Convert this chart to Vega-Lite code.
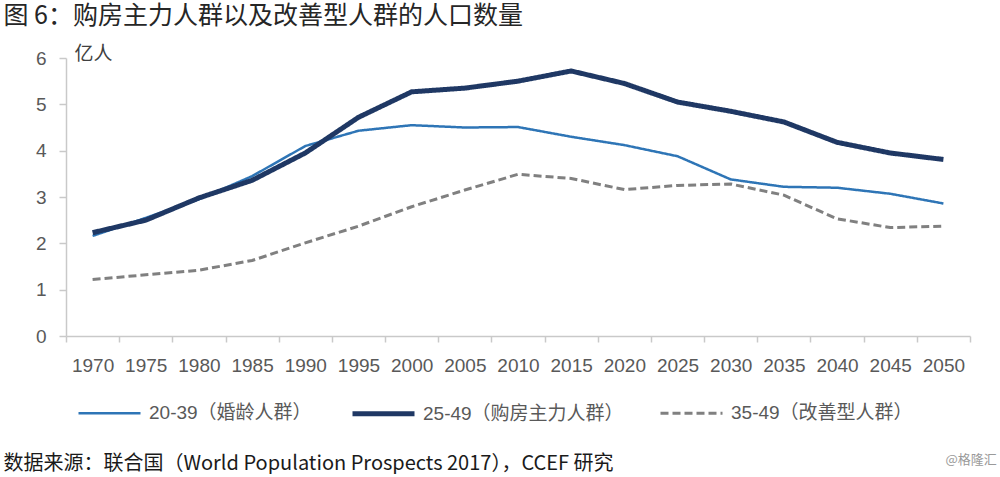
{
  "$schema": "https://vega.github.io/schema/vega-lite/v6.json",
  "background": "white",
  "padding": {"left": 3, "top": 4, "right": 5, "bottom": 0},
  "title": {
    "text": "图 6：购房主力人群以及改善型人群的人口数量",
    "anchor": "start",
    "fontSize": 25,
    "font": "Noto Sans CJK SC",
    "fontWeight": "normal",
    "color": "#262626",
    "offset": 15
  },
  "config": {"view": {"stroke": null}},
  "resolve": {
    "scale": {"color": "independent", "strokeWidth": "independent", "strokeDash": "independent"},
    "legend": {"color": "independent", "strokeWidth": "independent", "strokeDash": "independent"}
  },
  "vconcat": [
    {
      "title": {
        "text": "@格隆汇",
        "orient": "bottom",
        "anchor": "end",
        "fontSize": 13,
        "font": "Noto Sans CJK SC",
        "fontWeight": "normal",
        "color": "#9a9a9a",
        "offset": -20,
        "dx": 26
      },
      "resolve": {
        "scale": {"color": "independent", "strokeWidth": "independent", "strokeDash": "independent"},
        "legend": {"color": "independent", "strokeWidth": "independent", "strokeDash": "independent"}
      },
      "vconcat": [
        {
          "title": {
            "text": "数据来源：联合国（World Population Prospects 2017），CCEF 研究",
            "orient": "bottom",
            "anchor": "start",
            "fontSize": 20,
            "font": "Noto Sans CJK SC",
            "fontWeight": "normal",
            "color": "#1a1a1a",
            "offset": 20,
            "dx": -32
          },
          "resolve": {
            "scale": {"color": "independent", "strokeWidth": "independent", "strokeDash": "independent"},
            "legend": {"color": "independent", "strokeWidth": "independent", "strokeDash": "independent"}
          },
          "vconcat": [
            {
              "width": 904,
              "height": 278,
              "data": {
                "values": [
                  {"year": "1970", "series": "20-39（婚龄人群）", "value": 2.16},
                  {"year": "1975", "series": "20-39（婚龄人群）", "value": 2.55},
                  {"year": "1980", "series": "20-39（婚龄人群）", "value": 2.95},
                  {"year": "1985", "series": "20-39（婚龄人群）", "value": 3.45},
                  {"year": "1990", "series": "20-39（婚龄人群）", "value": 4.10},
                  {"year": "1995", "series": "20-39（婚龄人群）", "value": 4.43},
                  {"year": "2000", "series": "20-39（婚龄人群）", "value": 4.55},
                  {"year": "2005", "series": "20-39（婚龄人群）", "value": 4.50},
                  {"year": "2010", "series": "20-39（婚龄人群）", "value": 4.51},
                  {"year": "2015", "series": "20-39（婚龄人群）", "value": 4.30},
                  {"year": "2020", "series": "20-39（婚龄人群）", "value": 4.12},
                  {"year": "2025", "series": "20-39（婚龄人群）", "value": 3.88},
                  {"year": "2030", "series": "20-39（婚龄人群）", "value": 3.38},
                  {"year": "2035", "series": "20-39（婚龄人群）", "value": 3.22},
                  {"year": "2040", "series": "20-39（婚龄人群）", "value": 3.20},
                  {"year": "2045", "series": "20-39（婚龄人群）", "value": 3.07},
                  {"year": "2050", "series": "20-39（婚龄人群）", "value": 2.86},
                  {"year": "1970", "series": "25-49（购房主力人群）", "value": 2.23},
                  {"year": "1975", "series": "25-49（购房主力人群）", "value": 2.50},
                  {"year": "1980", "series": "25-49（购房主力人群）", "value": 2.98},
                  {"year": "1985", "series": "25-49（购房主力人群）", "value": 3.36},
                  {"year": "1990", "series": "25-49（购房主力人群）", "value": 3.95},
                  {"year": "1995", "series": "25-49（购房主力人群）", "value": 4.72},
                  {"year": "2000", "series": "25-49（购房主力人群）", "value": 5.27},
                  {"year": "2005", "series": "25-49（购房主力人群）", "value": 5.35},
                  {"year": "2010", "series": "25-49（购房主力人群）", "value": 5.50},
                  {"year": "2015", "series": "25-49（购房主力人群）", "value": 5.72},
                  {"year": "2020", "series": "25-49（购房主力人群）", "value": 5.45},
                  {"year": "2025", "series": "25-49（购房主力人群）", "value": 5.05},
                  {"year": "2030", "series": "25-49（购房主力人群）", "value": 4.85},
                  {"year": "2035", "series": "25-49（购房主力人群）", "value": 4.62},
                  {"year": "2040", "series": "25-49（购房主力人群）", "value": 4.18},
                  {"year": "2045", "series": "25-49（购房主力人群）", "value": 3.95},
                  {"year": "2050", "series": "25-49（购房主力人群）", "value": 3.81},
                  {"year": "1970", "series": "35-49（改善型人群）", "value": 1.22},
                  {"year": "1975", "series": "35-49（改善型人群）", "value": 1.32},
                  {"year": "1980", "series": "35-49（改善型人群）", "value": 1.42},
                  {"year": "1985", "series": "35-49（改善型人群）", "value": 1.63},
                  {"year": "1990", "series": "35-49（改善型人群）", "value": 2.01},
                  {"year": "1995", "series": "35-49（改善型人群）", "value": 2.37},
                  {"year": "2000", "series": "35-49（改善型人群）", "value": 2.79},
                  {"year": "2005", "series": "35-49（改善型人群）", "value": 3.15},
                  {"year": "2010", "series": "35-49（改善型人群）", "value": 3.49},
                  {"year": "2015", "series": "35-49（改善型人群）", "value": 3.40},
                  {"year": "2020", "series": "35-49（改善型人群）", "value": 3.16},
                  {"year": "2025", "series": "35-49（改善型人群）", "value": 3.25},
                  {"year": "2030", "series": "35-49（改善型人群）", "value": 3.28},
                  {"year": "2035", "series": "35-49（改善型人群）", "value": 3.04},
                  {"year": "2040", "series": "35-49（改善型人群）", "value": 2.53},
                  {"year": "2045", "series": "35-49（改善型人群）", "value": 2.34},
                  {"year": "2050", "series": "35-49（改善型人群）", "value": 2.37}
                ]
              },
              "mark": {"type": "line", "strokeJoin": "round"},
              "encoding": {
                "x": {
                  "field": "year",
                  "type": "ordinal",
                  "bandPosition": 0.5,
                  "scale": {"type": "band", "paddingInner": 0, "paddingOuter": 0},
                  "axis": {
                    "title": null,
                    "labelAngle": 0,
                    "tickBand": "extent",
                    "labelFontSize": 19,
                    "labelFont": "Liberation Sans",
                    "labelColor": "#595959",
                    "domainColor": "#c9c9c9",
                    "domainWidth": 1.5,
                    "tickColor": "#c9c9c9",
                    "tickWidth": 1.5,
                    "tickSize": 6,
                    "labelPadding": 14,
                    "grid": false
                  }
                },
                "y": {
                  "field": "value",
                  "type": "quantitative",
                  "scale": {"domain": [0, 6], "nice": false},
                  "axis": {
                    "title": "亿人",
                    "titleAngle": 0,
                    "titleX": 8,
                    "titleY": -5,
                    "titleAlign": "left",
                    "titleBaseline": "middle",
                    "titleFontSize": 19,
                    "titleFontWeight": "normal",
                    "titleFont": "Noto Sans CJK SC",
                    "titleColor": "#404040",
                    "values": [0, 1, 2, 3, 4, 5, 6],
                    "labelFontSize": 19,
                    "labelFont": "Liberation Sans",
                    "labelColor": "#595959",
                    "domainColor": "#c9c9c9",
                    "domainWidth": 1.5,
                    "tickColor": "#c9c9c9",
                    "tickWidth": 1.5,
                    "tickSize": 7,
                    "labelPadding": 13,
                    "grid": false
                  }
                },
                "color": {
                  "field": "series",
                  "type": "nominal",
                  "scale": {
                    "domain": ["20-39（婚龄人群）", "25-49（购房主力人群）", "35-49（改善型人群）"],
                    "range": ["#2e75b6", "#1f3864", "#808080"]
                  },
                  "legend": {
                    "title": null,
                    "orient": "bottom",
                    "offset": -5,
                    "direction": "horizontal",
                    "columns": 3,
                    "columnPadding": 30,
                    "symbolType": "stroke",
                    "symbolSize": 3844,
                    "labelOffset": 6,
                    "labelLimit": 400,
                    "labelFontSize": 19,
                    "labelFont": "Liberation Sans, Noto Sans CJK SC",
                    "labelColor": "#595959",
                    "padding": 10
                  }
                },
                "strokeWidth": {
                  "field": "series",
                  "type": "nominal",
                  "scale": {
                    "type": "ordinal",
                    "domain": ["20-39（婚龄人群）", "25-49（购房主力人群）", "35-49（改善型人群）"],
                    "range": [2.5, 5, 3]
                  }
                },
                "strokeDash": {
                  "field": "series",
                  "type": "nominal",
                  "scale": {
                    "domain": ["20-39（婚龄人群）", "25-49（购房主力人群）", "35-49（改善型人群）"],
                    "range": [[1, 0], [1, 0], [8, 4]]
                  }
                }
              }
            }
          ]
        }
      ]
    }
  ]
}
